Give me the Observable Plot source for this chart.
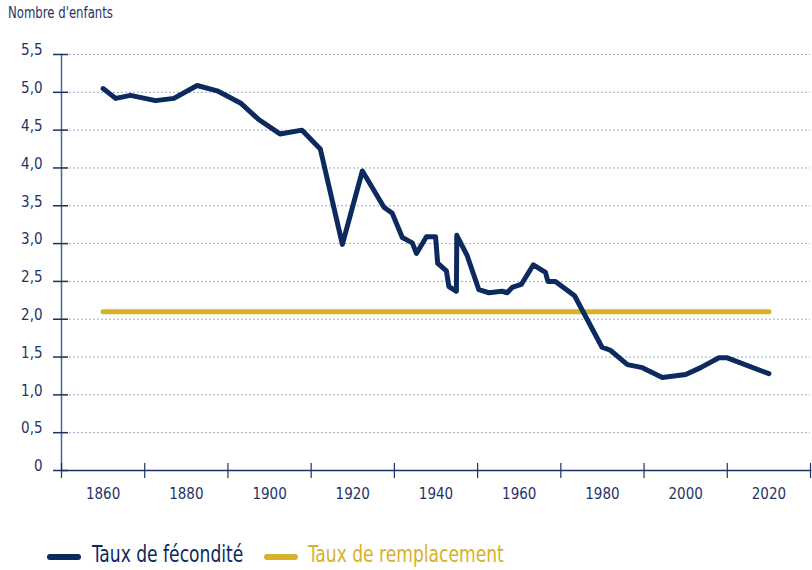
<!DOCTYPE html>
<html><head><meta charset="utf-8">
<script src="https://cdn.jsdelivr.net/npm/d3@7"></script>
<script src="https://cdn.jsdelivr.net/npm/@observablehq/plot@0.6"></script>
<style>
body{margin:0;background:#fff;}
#wrap{position:relative;width:812px;height:570px;font-family:"Liberation Sans Narrow","DejaVu Sans Condensed",sans-serif;overflow:hidden;}
#title{position:absolute;left:8px;top:4px;font-size:15.5px;color:#1f3466;white-space:nowrap;transform:scaleX(0.84);transform-origin:left top;}
#chart{position:absolute;left:0;top:0;}
.sw{position:absolute;width:34px;height:6px;border-radius:3px;top:554px;}
.lt{position:absolute;top:540px;font-size:23.5px;white-space:nowrap;transform:scaleX(0.81);transform-origin:left top;}
</style></head>
<body>
<div id="wrap">
<div id="chart"></div>
<div id="title"></div>
</div>
<script>
const titleText = "Nombre d'enfants";
const seriesNames = ["Taux de fécondité", "Taux de remplacement"];
const seriesColors = ["#0d2a5e", "#d8b12a"];

const years = [1860, 1863, 1866.6, 1872.6, 1877, 1882.6, 1887.4, 1893, 1897.4, 1902.5, 1907.8, 1912.2,
  1917.5, 1922.3, 1927.5, 1929.5, 1931.9, 1934.3, 1935.3, 1937.7, 1939.9, 1940.4, 1942.5, 1943.1, 1944.9,
  1945, 1947.5, 1950.3, 1952.7, 1955.9, 1957.1, 1958.3, 1960.5, 1963.4, 1966.3, 1966.9, 1968.7, 1973.3,
  1979.9, 1981.9, 1986, 1989.6, 1994.4, 2000, 2003.6, 2008, 2010, 2020];
const fertility = [5.05, 4.92, 4.96, 4.89, 4.92, 5.09, 5.02, 4.86, 4.64, 4.45, 4.50, 4.25,
  2.99, 3.96, 3.48, 3.40, 3.08, 3.01, 2.87, 3.09, 3.09, 2.74, 2.64, 2.43, 2.37,
  3.11, 2.84, 2.39, 2.35, 2.37, 2.35, 2.42, 2.46, 2.72, 2.62, 2.50, 2.50, 2.31,
  1.63, 1.59, 1.40, 1.36, 1.23, 1.27, 1.36, 1.49, 1.49, 1.28];

const replacementYears = [1860, 2020];
const replacement = [2.1, 2.1];

const yTicks = [0, 0.5, 1, 1.5, 2, 2.5, 3, 3.5, 4, 4.5, 5, 5.5];
const xTickMarks = [1850, 1870, 1890, 1910, 1930, 1950, 1970, 1990, 2010, 2030];
const xLabels = [1860, 1880, 1900, 1920, 1940, 1960, 1980, 2000, 2020];

const fert = years.map((y, i) => ({year: y, value: fertility[i]}));
const repl = replacementYears.map((y, i) => ({year: y, value: replacement[i]}));

const fmt = d => d === 0 ? "0" : d.toFixed(1).replace(".", ",");

const chart = Plot.plot({
  width: 812,
  height: 510,
  marginLeft: 61,
  marginRight: 2,
  marginTop: 54,
  marginBottom: 40,
  style: {fontFamily: '"Liberation Sans Narrow","DejaVu Sans Condensed",sans-serif', fontSize: "15px", color: "#1f3466", background: "#fff"},
  x: {domain: [1850, 2030]},
  y: {domain: [0, 5.5]},
  marks: [
    Plot.gridY(yTicks.filter(d => d > 0), {stroke: "#9eabc4", strokeOpacity: 1, strokeDasharray: "2,2", strokeWidth: 1}),
    Plot.frame({anchor: "left", stroke: "#4d6590", strokeWidth: 1.5}),
    Plot.frame({anchor: "bottom", stroke: "#1c3263", strokeWidth: 1.5}),
    Plot.axisY({ticks: yTicks, tickSize: 15, dx: 7, tickFormat: () => "", stroke: "#1c3263", strokeWidth: 1.5, label: null}),
    Plot.axisY({ticks: yTicks, tickSize: 0, dx: 7, dy: -4, tickPadding: 26, tickFormat: fmt, label: null}),
    Plot.axisX({ticks: xTickMarks, tickSize: 15, dy: -7, tickFormat: () => "", stroke: "#1c3263", strokeWidth: 1.2, label: null}),
    Plot.axisX({ticks: xLabels, tickSize: 0, tickPadding: 18, tickFormat: d => String(d), label: null}),
    Plot.line(repl, {x: "year", y: "value", stroke: seriesColors[1], strokeWidth: 5, strokeLinecap: "round"}),
    Plot.line(fert, {x: "year", y: "value", stroke: seriesColors[0], strokeWidth: 5, strokeLinecap: "round", strokeLinejoin: "round"})
  ]
});
document.getElementById("chart").appendChild(chart);
document.getElementById("title").textContent = titleText;
const wrap = document.getElementById("wrap");
const swX = [47, 264], txX = [92, 308];
seriesNames.forEach((n, i) => {
  const sw = document.createElement("span");
  sw.className = "sw";
  sw.style.left = swX[i] + "px";
  sw.style.background = seriesColors[i];
  wrap.appendChild(sw);
  const t = document.createElement("span");
  t.className = "lt";
  t.style.left = txX[i] + "px";
  t.style.color = seriesColors[i];
  t.textContent = n;
  wrap.appendChild(t);
});
</script>
</body></html>
